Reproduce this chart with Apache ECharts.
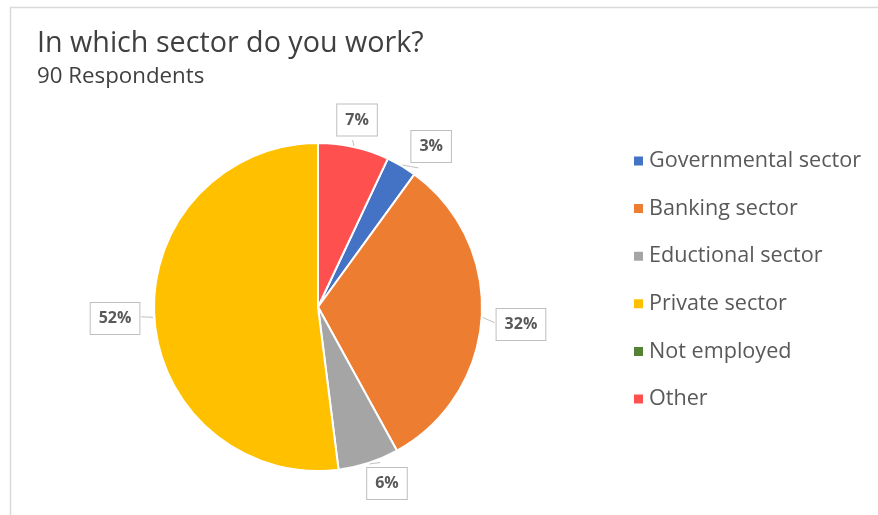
<!DOCTYPE html>
<html>
<head>
<meta charset="utf-8">
<script src="https://cdn.jsdelivr.net/npm/echarts@6/dist/echarts.min.js"></script>
<style>
  html, body { margin: 0; padding: 0; background: #fff; }
  #chart { width: 878px; height: 515px; }
</style>
</head>
<body>
<div id="chart"></div>
<script>
// Survey: sector of work, share of respondents (%)
const sectors = ['Governmental sector', 'Banking sector', 'Eductional sector', 'Private sector', 'Not employed', 'Other'];
const shares = [3, 32, 6, 52, 0, 7];
const sliceColors = ['#4472C4', '#ED7D31', '#A5A5A5', '#FFC000', '#548235', '#FF5050'];
const titleText = 'In which sector do you work?';
const subtitleText = '90 Respondents';

const FONT = '"Open Sans", "Noto Sans", sans-serif';
const CX = 318, CY = 307, R = 164;
const START_ANGLE = 64.8;   // first slice begins 25.2° clockwise from 12 o'clock
const LABEL_GAP = 8;
// small hand nudges (px) applied to each callout after radial placement
const calloutNudge = [[13, 9], [5, 5], [9, -8], [-5, -1], [0, 0], [-3, 1]];

const total = shares.reduce((a, b) => a + b, 0);
const midAngles = [];
let acc = 0;
shares.forEach(v => {
  const mid = START_ANGLE - (acc + v / 2) / total * 360;
  midAngles.push(mid * Math.PI / 180);
  acc += v;
});

const chart = echarts.init(document.getElementById('chart'), null, { renderer: 'canvas' });

chart.setOption({
  animation: false,
  backgroundColor: '#fff',
  graphic: [{
    type: 'rect',
    shape: { x: 10.5, y: 7.5, width: 900, height: 540 },
    style: { fill: 'none', stroke: '#d9d9d9', lineWidth: 1.5 },
    silent: true
  }],
  title: [{
    text: titleText,
    left: 37,
    top: 29,
    padding: 0,
    textStyle: { fontFamily: FONT, fontSize: 28.7, fontWeight: 'normal', color: '#404040' }
  }, {
    text: subtitleText,
    left: 37,
    top: 66,
    padding: 0,
    textStyle: { fontFamily: FONT, fontSize: 22.3, fontWeight: 'normal', color: '#404040' }
  }],
  legend: {
    orient: 'vertical',
    left: 632,
    top: 150,
    padding: 0,
    itemGap: 25.6,
    itemWidth: 11,
    itemHeight: 11,
    icon: 'rect',
    selectedMode: false,
    data: sectors,
    textStyle: { fontFamily: FONT, fontSize: 21.6, color: '#595959', lineHeight: 22, padding: [0, 0, 0, 0] }
  },
  series: [{
    type: 'pie',
    center: [CX, CY],
    radius: R,
    startAngle: START_ANGLE,
    clockwise: true,
    avoidLabelOverlap: false,
    stillShowZeroSum: true,
    itemStyle: { borderColor: '#fff', borderWidth: 2 },
    label: {
      show: true,
      position: 'outside',
      formatter: '{c}%',
      fontFamily: FONT,
      fontSize: 16,
      fontWeight: 'bold',
      color: '#595959',
      backgroundColor: '#fff',
      borderColor: '#bfbfbf',
      borderWidth: 1,
      padding: [6, 8, 5, 8],
      lineHeight: 20
    },
    labelLine: { show: true, lineStyle: { color: '#bfbfbf', width: 1 } },
    labelLayout: function (params) {
      const i = params.dataIndex;
      if (shares[i] === 0) return {};
      const a = midAngles[i];
      const ux = Math.cos(a), uy = -Math.sin(a);
      const w = params.labelRect.width / 2, h = params.labelRect.height / 2;
      const support = w * Math.abs(ux) + h * Math.abs(uy);
      const d = R + LABEL_GAP + support;
      const lx = CX + ux * d + calloutNudge[i][0];
      const ly = CY + uy * d + calloutNudge[i][1];
      const ex = CX + ux * (R + 1), ey = CY + uy * (R + 1);
      // point on the callout box edge facing the pie
      const bx = lx - ux * support, by = ly - uy * support;
      return {
        x: lx,
        y: ly,
        align: 'center',
        verticalAlign: 'middle',
        labelLinePoints: [[ex, ey], [(ex + bx) / 2, (ey + by) / 2], [bx, by]]
      };
    },
    data: sectors.map((name, i) => ({
      name: name,
      value: shares[i],
      itemStyle: { color: sliceColors[i] },
      label: shares[i] === 0 ? { show: false } : undefined,
      labelLine: shares[i] === 0 ? { show: false } : undefined
    }))
  }]
});
</script>
</body>
</html>
